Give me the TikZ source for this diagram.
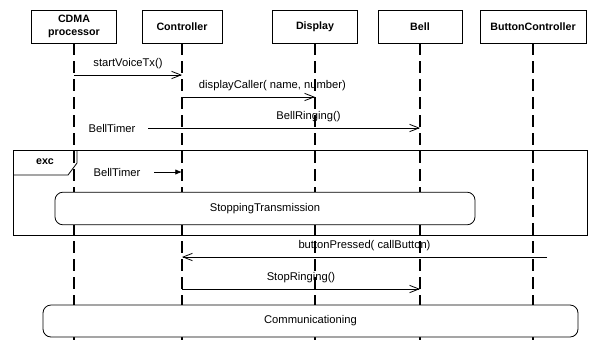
\documentclass[tikz,border=0pt]{standalone}
\usepackage{fontspec}
\setmainfont{Liberation Sans}
\usetikzlibrary{positioning,calc,arrows.meta}

\begin{document}
\begin{tikzpicture}[
    x=0.75pt, y=-0.75pt,
    font=\fontsize{8.4}{10}\selectfont,
    head/.style={draw, rectangle, minimum height=24.75pt, align=center, inner sep=1pt, font=\fontsize{8}{9.2}\selectfont\bfseries},
    life/.style={line width=1.5pt, dash pattern=on 9pt off 4.5pt},
    msg/.style={line width=0.6pt, -{Straight Barb[length=7pt,width=5.5pt]}},
    lbl/.style={above=3pt, inner sep=1pt},
    state/.style={draw, rounded corners=6pt, fill=white, line width=0.6pt, minimum height=24.5pt}
]
    \useasboundingbox (0,0) rectangle (589,340);

    % Lifeline heads
    \foreach \name/\x/\w/\txt in {cdma/74/85/{CDMA\\processor}, ctrl/182/80/Controller, disp/315/85/Display, bell/420/84/Bell, btnctrl/533/106/ButtonController} {
        \node [head, minimum width=\w*0.75pt] (\name) at (\x,26.5) {\txt};
        \draw [life] (\name.south) -- (\name.south |- 0,340);
    }

    % Message rows
    \foreach \n/\y in {m1/75, m2/97, m3/128, m4/172, m5/257, m6/289} {
        \coordinate (\n) at (0,\y);
    }

    \draw [msg] (cdma |- m1) -- (ctrl |- m1) node [lbl, midway] {startVoiceTx()};
    \draw [msg] (ctrl |- m2) -- (disp |- m2) node [lbl, pos=0.68] {displayCaller( name, number)};

    \node (bt1) at (112,128) {BellTimer};
    \draw [msg] ([xshift=6pt]bt1.east) -- (bell |- m3) node [lbl, pos=0.59] {BellRinging()};

    % exc fragment
    \draw [line width=0.6pt] (13,150) rectangle (587,235);
    \draw [line width=0.6pt] (13,175) -- (68,175) -- (77,163) -- (77,150);
    \node [font=\fontsize{8}{9.6}\selectfont\bfseries] (exc) at (45,162) {exc};

    \node (bt2) at (117,172) {BellTimer};
    \draw [line width=0.6pt, -{Latex[length=5pt,width=4pt]}] ([xshift=7pt]bt2.east) -- (ctrl |- m4);

    \node [state, minimum width=315pt] (stopping) at (265,208.5) {StoppingTransmission};

    \coordinate (bpstart) at (547,257);
    \draw [msg] (bpstart) -- (ctrl |- m5) node [lbl, midway] {buttonPressed( callButton)};
    \draw [msg] (ctrl |- m6) -- (bell |- m6) node [lbl, midway] {StopRinging()};

    \node [state, minimum width=401.25pt, minimum height=24pt] (comm) at (310.5,321) {Communicationing};
\end{tikzpicture}
\end{document}
